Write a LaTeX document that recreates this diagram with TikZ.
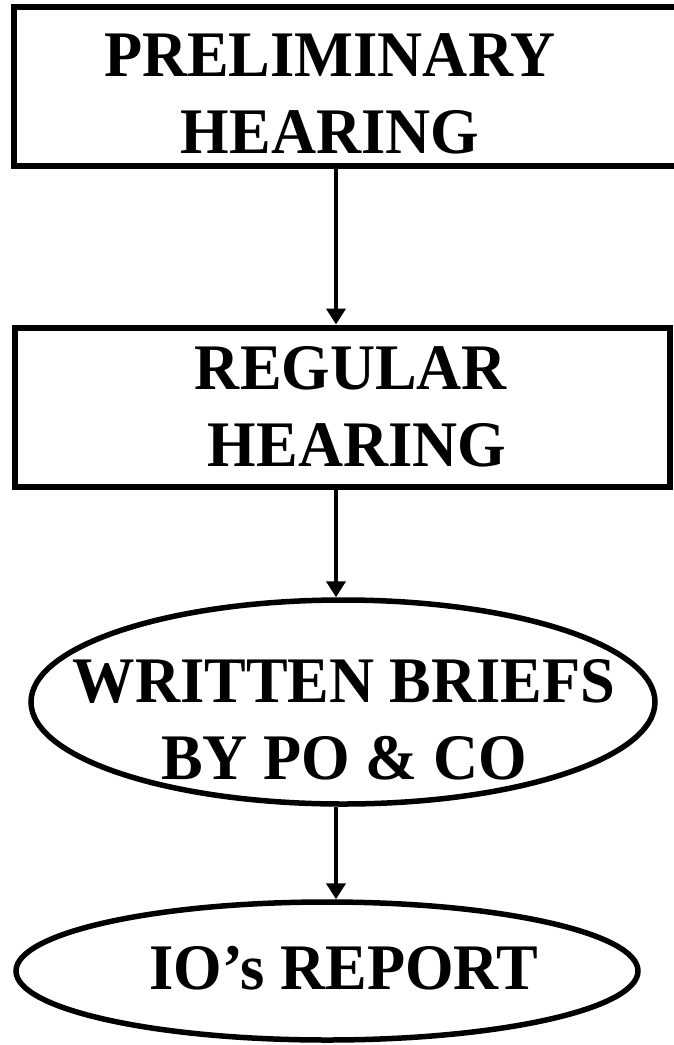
\documentclass[tikz,border=0pt]{standalone}
\usepackage{fontspec}
\setmainfont[FakeStretch=0.96]{Liberation Serif}
\usetikzlibrary{shapes.geometric,arrows.meta}
\tikzset{
  stepbox/.style={draw, line width=6pt, rectangle, inner sep=0pt},
  stepoval/.style={draw, line width=5.5pt, ellipse, inner sep=0pt},
  steptext/.style={font=\bfseries\fontsize{65}{77}\selectfont, align=center, inner sep=0pt},
  flow/.style={line width=4.5pt, -{Triangle[width=19pt,length=16pt]}}
}
\begin{document}
\begin{tikzpicture}[x=1pt,y=-1pt]
  \useasboundingbox (0,0) rectangle (674,1045);
  \coordinate (axis) at (336,0);

  % process steps
  \node[stepbox, minimum width=686pt, minimum height=159pt] (prelim) at (357,86.5) {};
  \node[stepbox, minimum width=655pt, minimum height=159pt] (regular) at (342,407) {};
  \node[stepoval, minimum width=624pt, minimum height=204pt] (briefs) at (343,702) {};
  \node[stepoval, minimum width=622pt, minimum height=138pt] (report) at (327,971) {};

  % step captions
  \node[steptext] (prelimtext) at (330,94) {PRELIMINARY\\HEARING};
  \node[steptext] (regulartext) at (351,407) {REGULAR\\\hspace*{12pt}HEARING};
  \node[steptext] (briefstext) at (344,720) {WRITTEN BRIEFS\\BY PO \& CO};
  \node[steptext] (reporttext) at (344,968) {IO’s REPORT};

  % flow between steps
  \draw[flow] (prelim.south -| axis) -- (regular.north -| axis);
  \draw[flow] (regular.south -| axis) -- (briefs.north -| axis);
  \draw[flow] (briefs.south -| axis) -- (report.north -| axis);
\end{tikzpicture}
\end{document}
